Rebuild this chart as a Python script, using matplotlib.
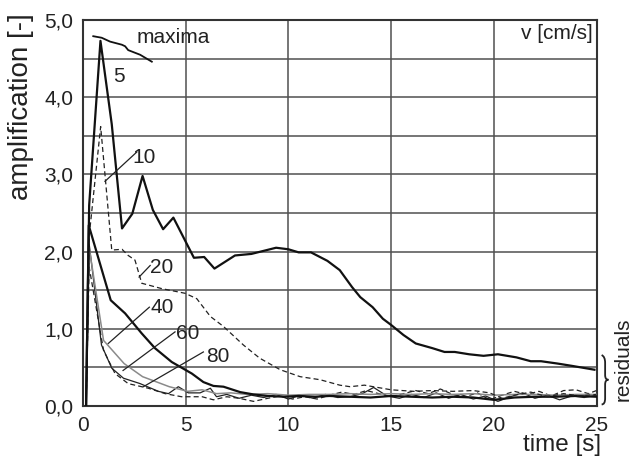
import matplotlib
matplotlib.use("Agg")
import matplotlib.pyplot as plt
from matplotlib.path import Path
from matplotlib.patches import PathPatch

plt.rcParams['font.family'] = ['Liberation Sans', 'DejaVu Sans']

# ---- data ----
t_5 = [0.15, 0.3, 0.85, 1.4, 1.9, 2.4, 2.9, 3.4, 3.9, 4.4, 5.4, 5.9, 6.4, 7.4, 8.2, 9.4, 10.0, 10.5,
       11.1, 11.9, 12.5, 13.1, 13.5, 14.1, 14.6, 15.0, 15.6, 16.2, 17.0, 17.6, 18.1, 18.8, 19.5,
       20.2, 21.1, 21.8, 22.3, 23.1, 23.8, 24.9]
v_5 = [0, 2.6, 4.73, 3.65, 2.30, 2.49, 2.98, 2.54, 2.29, 2.44, 1.92, 1.93, 1.78, 1.95, 1.97, 2.05,
       2.03, 1.99, 1.99, 1.88, 1.76, 1.54, 1.41, 1.28, 1.13, 1.05, 0.92, 0.81, 0.75, 0.70, 0.70,
       0.67, 0.65, 0.67, 0.63, 0.58, 0.58, 0.55, 0.52, 0.47]

t_10 = [0.15, 0.3, 0.86, 1.4, 1.9, 2.2, 2.53, 2.86, 3.84, 4.97, 5.54, 6.2, 6.84, 7.81, 8.6, 9.6,
        10.57, 11.55, 12.5, 13.0, 13.7, 15.0, 16.1, 17.0, 18.0, 19.0, 19.8, 20.4, 21.0, 21.8,
        22.6, 23.4, 24.2, 25.0]
v_10 = [0, 2.2, 3.62, 2.02, 2.03, 1.95, 1.89, 1.59, 1.52, 1.46, 1.39, 1.16, 1.03, 0.79, 0.62, 0.47,
        0.38, 0.34, 0.27, 0.25, 0.27, 0.21, 0.19, 0.20, 0.19, 0.20, 0.17, 0.10, 0.14, 0.18,
        0.12, 0.16, 0.13, 0.15]

t_20 = [0.15, 0.28, 1.35, 2.05, 2.86, 3.5, 4.32, 5.3, 5.86, 6.35, 6.84, 7.65, 8.3, 9.0, 9.8, 10.5,
        11.3, 12.0, 13.0, 14.0, 15.0, 16.0, 17.0, 18.0, 19.0, 20.0, 21.0, 22.0, 23.0, 24.0, 25.0]
v_20 = [0, 2.34, 1.37, 1.20, 0.94, 0.75, 0.57, 0.42, 0.31, 0.26, 0.25, 0.18, 0.15, 0.13, 0.12, 0.13,
        0.12, 0.13, 0.12, 0.11, 0.13, 0.12, 0.11, 0.12, 0.11, 0.08, 0.11, 0.12, 0.12, 0.13, 0.12]

t_40 = [0.15, 0.3, 1.0, 2.0, 2.9, 4.2, 5.1, 5.8, 6.5, 7.2, 8.0, 9.0, 10.0, 11.0, 12.0, 13.0, 14.0,
        15.0, 16.0, 17.0, 18.0, 19.0, 20.0, 21.0, 22.0, 23.0, 24.0, 25.0]
v_40 = [0, 2.05, 0.85, 0.55, 0.38, 0.25, 0.19, 0.21, 0.16, 0.17, 0.15, 0.16, 0.14, 0.15, 0.15, 0.16,
        0.15, 0.16, 0.15, 0.16, 0.15, 0.16, 0.14, 0.15, 0.15, 0.14, 0.15, 0.15]

t_60 = [0.15, 0.3, 0.9, 1.4, 1.97, 2.78, 3.67, 4.16, 4.64, 5.13, 5.7, 6.2, 6.5, 7.0, 7.6, 8.2, 8.8,
        9.4, 10.0, 10.6, 11.2, 11.8, 12.4, 13.0, 13.6, 14.15, 14.8, 15.4, 16.0, 16.6, 17.2, 17.8,
        18.4, 19.0, 19.6, 20.2, 20.8, 21.4, 22.0, 22.6, 23.2, 23.8, 24.4, 25.0]
v_60 = [0, 2.1, 0.79, 0.49, 0.36, 0.29, 0.19, 0.16, 0.25, 0.17, 0.17, 0.23, 0.12, 0.15, 0.10, 0.14,
        0.11, 0.15, 0.09, 0.14, 0.10, 0.15, 0.11, 0.12, 0.16, 0.24, 0.13, 0.10, 0.15, 0.11, 0.17,
        0.10, 0.15, 0.09, 0.13, 0.06, 0.12, 0.17, 0.10, 0.14, 0.08, 0.13, 0.11, 0.14]

t_80 = [0.15, 0.3, 1.0, 1.56, 2.2, 3.18, 4.0, 4.8, 5.8, 6.35, 7.0, 7.6, 8.3, 9.0, 9.6, 10.2, 10.8,
        11.4, 12.0, 12.6, 13.2, 13.8, 14.4, 15.0, 15.6, 16.2, 16.8, 17.4, 18.0, 18.6, 19.2, 19.8,
        20.4, 21.0, 21.6, 22.2, 22.8, 23.4, 24.0, 24.6, 25.0]
v_80 = [0, 1.8, 0.72, 0.42, 0.29, 0.23, 0.16, 0.12, 0.12, 0.08, 0.12, 0.10, 0.06, 0.10, 0.13, 0.09,
        0.12, 0.09, 0.14, 0.18, 0.15, 0.20, 0.16, 0.12, 0.16, 0.20, 0.16, 0.22, 0.15, 0.12, 0.17,
        0.08, 0.14, 0.19, 0.15, 0.19, 0.13, 0.20, 0.21, 0.16, 0.20]

t_max = [0.5, 0.91, 1.32, 1.89, 2.05, 2.2, 2.78, 3.35]
v_max = [4.79, 4.77, 4.72, 4.68, 4.66, 4.61, 4.55, 4.46]

x_ticks = [0, 5, 10, 15, 20, 25]
y_ticks = [0, 1, 2, 3, 4, 5]
y_tick_labels = ["0,0", "1,0", "2,0", "3,0", "4,0", "5,0"]

# curve labels: text, text position, leader start, leader end
labels = [
    ("5", (1.75, 4.27), None, None),
    ("10", (2.98, 3.22), (1.07, 2.91), (2.62, 3.29)),
    ("20", (3.85, 1.80), (2.73, 1.67), (3.27, 1.82)),
    ("40", (3.85, 1.27), (1.23, 0.81), (3.23, 1.28)),
    ("60", (5.12, 0.94), (1.95, 0.46), (4.48, 0.96)),
    ("80", (6.58, 0.64), (2.94, 0.25), (5.86, 0.70)),
]

# ---- figure ----
fig = plt.figure(figsize=(6.44, 4.58), dpi=100)
ax = fig.add_axes([83 / 644, 1 - 406 / 458, (596.5 - 83) / 644, (406 - 20) / 458])
ax.set_xlim(0, 25)
ax.set_ylim(0, 5)

grid_c = "#505050"
for x in [5, 10, 15, 20]:
    ax.axvline(x, color=grid_c, lw=1.1, zorder=1)
for y in [0.5, 1, 1.5, 2, 2.5, 3, 3.5, 4, 4.5]:
    ax.axhline(y, color=grid_c, lw=1.1, zorder=1)

dash = (0, (4, 2.5))
ax.plot(t_80, v_80, color="#222222", lw=0.9, ls=dash, zorder=3)
ax.plot(t_60, v_60, color="#222222", lw=0.9, zorder=3)
ax.plot(t_40, v_40, color="#8a8a8a", lw=1.1, zorder=3)
ax.plot(t_20, v_20, color="#111111", lw=1.6, zorder=4)
ax.plot(t_10, v_10, color="#222222", lw=0.9, ls=dash, zorder=4)
ax.plot(t_5, v_5, color="#111111", lw=1.6, zorder=5)
ax.plot(t_max, v_max, color="#111111", lw=1.3, zorder=5)

fs = 15
for txt, pos, p0, p1 in labels:
    ax.text(pos[0], pos[1], txt, fontsize=fs, ha="center", va="center", color="#222222",
            zorder=6)
    if p0 is not None:
        ax.plot([p0[0], p1[0]], [p0[1], p1[1]], color="#222222", lw=0.9, zorder=6)

ax.text(2.6, 4.77, "maxima", fontsize=fs, ha="left", va="center", color="#222222")
ax.text(24.8, 4.82, "v [cm/s]", fontsize=fs, ha="right", va="center", color="#222222")

for s in ax.spines.values():
    s.set_color("#333333")
    s.set_linewidth(1.5)

ax.set_xticks(x_ticks)
ax.set_xticklabels([str(x) for x in x_ticks])
ax.set_yticks(y_ticks)
ax.set_yticklabels(y_tick_labels)
ax.tick_params(length=0, labelsize=fs, colors="#222222", pad=7)

# brace for residuals
verts = [(25.25, 0.66), (25.42, 0.64), (25.42, 0.56),
         (25.42, 0.40), (25.42, 0.34), (25.58, 0.34),
         (25.42, 0.34), (25.42, 0.28), (25.42, 0.10),
         (25.42, 0.02), (25.25, 0.02)]
codes = [Path.MOVETO, Path.CURVE3, Path.CURVE3,
         Path.LINETO, Path.CURVE3, Path.CURVE3,
         Path.CURVE3, Path.CURVE3, Path.LINETO,
         Path.CURVE3, Path.CURVE3]
ax.add_patch(PathPatch(Path(verts, codes), fill=False, lw=1.3, ec="#222222", clip_on=False))
ax.text(26.3, 0.61, "residuals", fontsize=fs, rotation=90, ha="center", va="center",
        color="#222222", clip_on=False)

fig.text(562 / 644, 1 - 456 / 458, "time [s]", fontsize=17.5, ha="center", va="bottom",
         color="#222222")
fig.text(21 / 644, 1 - 107 / 458, "amplification [-]", fontsize=20, rotation=90,
         ha="center", va="center", color="#222222")

fig.savefig("out.png", dpi=100)
